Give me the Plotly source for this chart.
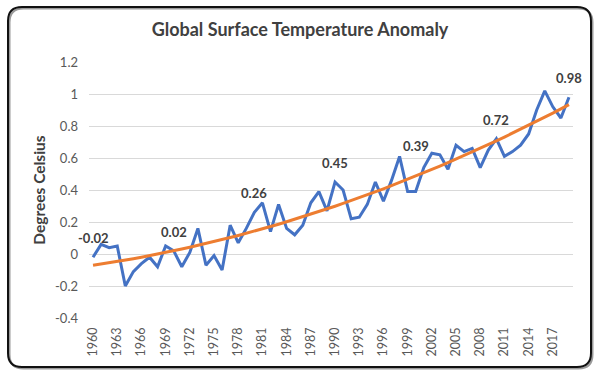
import numpy as np
import plotly.graph_objects as go

years = list(range(1960, 2020))
anomaly = [-0.02, 0.06, 0.04, 0.05, -0.20, -0.11, -0.06, -0.02, -0.08, 0.05,
           0.02, -0.08, 0.01, 0.16, -0.07, -0.01, -0.10, 0.18, 0.07, 0.16,
           0.26, 0.32, 0.14, 0.31, 0.16, 0.12, 0.18, 0.32, 0.39, 0.27,
           0.45, 0.40, 0.22, 0.23, 0.31, 0.45, 0.33, 0.46, 0.61, 0.39,
           0.39, 0.54, 0.63, 0.62, 0.53, 0.68, 0.64, 0.66, 0.54, 0.65,
           0.72, 0.61, 0.64, 0.68, 0.75, 0.90, 1.02, 0.92, 0.85, 0.98]
label_years = [1960, 1970, 1980, 1990, 2000, 2010, 2019]
tick_years = list(range(1960, 2018, 3))
y_ticks = [-0.4, -0.2, 0, 0.2, 0.4, 0.6, 0.8, 1, 1.2]

# Excel-style 2nd-order polynomial trendline fitted to the data
coef = np.polyfit(years, anomaly, 2)
trend = np.polyval(coef, years)

FONT = "Lato"
W, H = 600, 374
L, R, T, B = 89, 27, 62, 56
pw, ph = W - L - R, H - T - B


def px(x):
    return (x - L) / pw


def py(y):
    return (H - B - y) / ph


fig = go.Figure()
fig.add_trace(go.Scatter(x=years, y=anomaly, mode="lines",
                         line=dict(color="#4472C4", width=3), showlegend=False,
                         hoverinfo="skip"))
fig.add_trace(go.Scatter(x=years, y=trend, mode="lines",
                         line=dict(color="#ED7D31", width=3), showlegend=False,
                         hoverinfo="skip"))

for yr in label_years:
    v = anomaly[years.index(yr)]
    shift = 46 if yr == 2000 else 19
    fig.add_annotation(x=yr, y=v, text=f"{v:.2f}", showarrow=False, yshift=shift,
                       font=dict(family=FONT, size=13, color="#404040", weight="bold"))

# rounded chart frame
x0, x1, y0, y1 = 8, 591, 7, 367
r = 14


def frame_path(x0, x1, y0, y1, r):
    return (f"M {px(x0 + r)} {py(y0)} L {px(x1 - r)} {py(y0)} "
            f"Q {px(x1)} {py(y0)} {px(x1)} {py(y0 + r)} "
            f"L {px(x1)} {py(y1 - r)} Q {px(x1)} {py(y1)} {px(x1 - r)} {py(y1)} "
            f"L {px(x0 + r)} {py(y1)} Q {px(x0)} {py(y1)} {px(x0)} {py(y1 - r)} "
            f"L {px(x0)} {py(y0 + r)} Q {px(x0)} {py(y0)} {px(x0 + r)} {py(y0)} Z")


fig.add_shape(type="path", xref="paper", yref="paper",
              path=frame_path(x0 + 1.5, x1 + 1.5, y0 + 1.5, y1 + 1.5, r),
              line=dict(color="#9a9a9a", width=2), layer="below")
fig.add_shape(type="path", xref="paper", yref="paper",
              path=frame_path(x0, x1, y0, y1, r),
              line=dict(color="#111111", width=2), layer="below")

fig.update_layout(
    width=W, height=H,
    margin=dict(l=L, r=R, t=T, b=B),
    paper_bgcolor="white", plot_bgcolor="white",
    hovermode=False,
    title=dict(text="<b>Global Surface Temperature Anomaly</b>", x=0.5, xanchor="center",
               y=1 - 30 / H, yanchor="middle",
               font=dict(family=FONT, size=18, color="#404040")),
    xaxis=dict(range=[1959.5, 2019.5], tickmode="array", tickvals=tick_years,
               ticktext=[str(t) for t in tick_years], tickangle=-90,
               showgrid=False, zeroline=False, showline=False, ticks="",
               ticklabelstandoff=6,
               tickfont=dict(family=FONT, size=12.5, color="#595959")),
    yaxis=dict(range=[-0.4, 1.2], tickmode="array", tickvals=y_ticks,
               ticktext=[f"{t:g}" for t in y_ticks],
               showgrid=True, gridcolor="#D9D9D9", gridwidth=1,
               zeroline=False, showline=False, ticks="",
               ticklabelstandoff=10,
               tickfont=dict(family=FONT, size=13, color="#595959"),
               title=dict(text="<b>Degrees Celsius</b>", standoff=5,
                          font=dict(family=FONT, size=15.5, color="#404040"))),
)

fig.write_html("out.html", config={"displayModeBar": False},
               post_script="document.body.style.margin='0';document.body.style.overflow='hidden';")
